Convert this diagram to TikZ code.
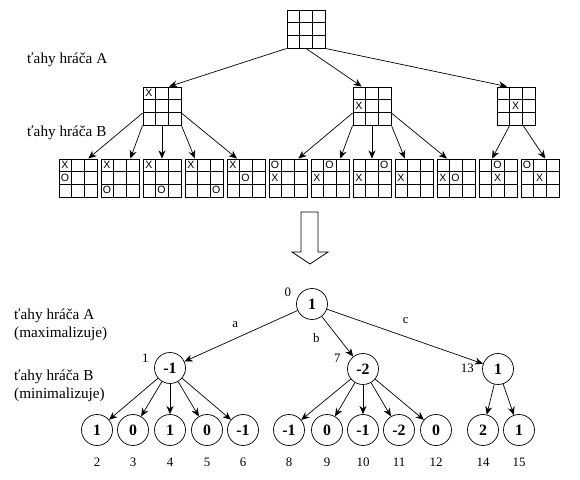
\documentclass[tikz,border=0pt]{standalone}
\usepackage{fontspec}
\setmainfont{Liberation Serif}
\newfontfamily\boardfont{Liberation Sans}
\usetikzlibrary{arrows.meta, calc}
\tikzset{
  % --- Hracie plochy (piskvorky 3x3) ------------------------
  board/.style={draw, line width=0.8pt, minimum size=1.14cm, inner sep=0pt,
    path picture={
      \foreach \i in {1,2}{
        \draw[line width=0.8pt]
          ($(path picture bounding box.north west)!\i/3!(path picture bounding box.north east)$) --
          ($(path picture bounding box.south west)!\i/3!(path picture bounding box.south east)$);
        \draw[line width=0.8pt]
          ($(path picture bounding box.north west)!\i/3!(path picture bounding box.south west)$) --
          ($(path picture bounding box.north east)!\i/3!(path picture bounding box.south east)$);
      }}},
  cellmk/.style={font=\boardfont\fontsize{9}{10}\selectfont, inner sep=0pt},
  arr/.style={-{Stealth[length=7pt,width=6pt]}, line width=0.6pt},
  % --- Strom minimax ----------------------------------------
  val/.style={draw, circle, minimum size=0.93cm, inner sep=0pt,
    line width=0.6pt, font=\fontsize{13.5}{15}\selectfont\bfseries},
  num/.style={font=\fontsize{11}{13}\selectfont, inner sep=1pt},
  idx/.style={label={[num, label distance=9pt]below:#1}},
  elbl/.style={font=\fontsize{11}{13}\selectfont, inner sep=1pt},
  side/.style={font=\fontsize{13}{15.3}\selectfont, align=left,
    anchor=west, inner sep=0pt},
  bigarr/.style={draw, line width=0.6pt, fill=white}
}

\begin{document}
\begin{tikzpicture}[x=0.03cm, y=-0.03cm]
  \useasboundingbox (0,0) rectangle (580,480);

  % --- Popisy vlavo ---------------------------------------------
  \node[side] (tA) at (27,60) {ťahy hráča A};
  \node[side] (tB) at (27,133) {ťahy hráča B};
  \node[side] (mA) at (14,325) {ťahy hráča A\\(maximalizuje)};
  \node[side] (mB) at (14,386) {ťahy hráča B\\(minimalizuje)};

  % --- Hracie plochy: koren a tahy hraca A ------------------------
  \node[board] (T) at (306,29) {};
  \node[board] (A) at (162,106) {};
  \node[board] (B) at (372,106) {};
  \node[board] (C) at (516,106) {};

  % --- Hracie plochy: tahy hraca B --------------------------------
  \foreach \n/\x in {1/78, 2/120, 3/162, 4/204, 5/246, 6/288,
                     7/330, 8/372, 9/414, 10/456, 11/498, 12/540}
    \node[board] (b\n) at (\x,178) {};

  % --- Znaky X a O -------------------------------------------------
  \foreach \b/\r/\c/\m in {A/0/0/X, B/1/0/X, C/1/1/X,
      b1/0/0/X, b1/1/0/O, b2/0/0/X, b2/2/0/O, b3/0/0/X, b3/2/1/O,
      b4/0/0/X, b4/2/2/O, b5/0/0/X, b5/1/1/O, b6/0/0/O, b6/1/0/X,
      b7/0/1/O, b7/1/0/X, b8/0/2/O, b8/1/0/X, b9/1/0/X,
      b10/1/0/X, b10/1/1/O, b11/0/1/O, b11/1/1/X, b12/0/0/O, b12/1/1/X}
    \node[cellmk] at ($(\b.north west)+(6.33+12.67*\c, 6.33+12.67*\r)$) {\m};

  % --- Sipky medzi plochami -----------------------------------------
  \draw[arr] (T.south west) -- (A.70);
  \draw[arr] (T.south) -- (B.118);
  \draw[arr] (T.south east) -- (C.115);

  \draw[arr] (A.200) -- (b1.62);
  \draw[arr] (A.south west) -- (b2.62);
  \draw[arr] (A.south) -- (b3.north);
  \draw[arr] (A.south east) -- (b4.115);
  \draw[arr] (A.-20) -- (b5.115);

  \draw[arr] (B.200) -- (b6.62);
  \draw[arr] (B.south west) -- (b7.62);
  \draw[arr] (B.south) -- (b8.north);
  \draw[arr] (B.south east) -- (b9.115);
  \draw[arr] (B.-20) -- (b10.115);

  \draw[arr] (C.252) -- (b11.107);
  \draw[arr] (C.290) -- (b12.75);

  % --- Velka sipka dole ---------------------------------------------
  \draw[bigarr] (301,212) -- (318,212) -- (318,252) -- (328,252)
    -- (310,264) -- (292,252) -- (301,252) -- cycle;

  % --- Strom s hodnotami --------------------------------------------
  \node[val, label={[num, label distance=4pt]162:0}] (R) at (312,304) {1};
  \node[val, label={[num, label distance=4pt]168:1}] (P1) at (170,368) {-1};
  \node[val, label={[num, label distance=5pt]166:7}] (P7) at (363,369) {-2};
  \node[val, label={[num, label distance=6pt]178:13}] (P13) at (498,369) {1};

  \node[val, idx=2] (L2) at (97,430) {1};
  \node[val, idx=3] (L3) at (133,430) {0};
  \node[val, idx=4] (L4) at (170,430) {1};
  \node[val, idx=5] (L5) at (207,430) {0};
  \node[val, idx=6] (L6) at (243,430) {-1};
  \node[val, idx=8] (L8) at (289,430) {-1};
  \node[val, idx=9] (L9) at (327,430) {0};
  \node[val, idx=10] (L10) at (363,430) {-1};
  \node[val, idx=11] (L11) at (399,430) {-2};
  \node[val, idx=12] (L12) at (436,430) {0};
  \node[val, idx=14] (L14) at (483,430) {2};
  \node[val, idx=15] (L15) at (519,430) {1};

  \draw[arr] (R) -- (P1) node[elbl, pos=0.55, above=8pt] {a};
  \draw[arr] (R) -- (P7) node[elbl, pos=0.54, left=15pt] {b};
  \draw[arr] (R) -- (P13) node[elbl, pos=0.505, above=10pt] {c};

  \foreach \l in {L2, L3, L4, L5, L6}
    \draw[arr] (P1) -- (\l);
  \foreach \l in {L8, L9, L10, L11, L12}
    \draw[arr] (P7) -- (\l);
  \foreach \l in {L14, L15}
    \draw[arr] (P13) -- (\l);

\end{tikzpicture}
\end{document}
